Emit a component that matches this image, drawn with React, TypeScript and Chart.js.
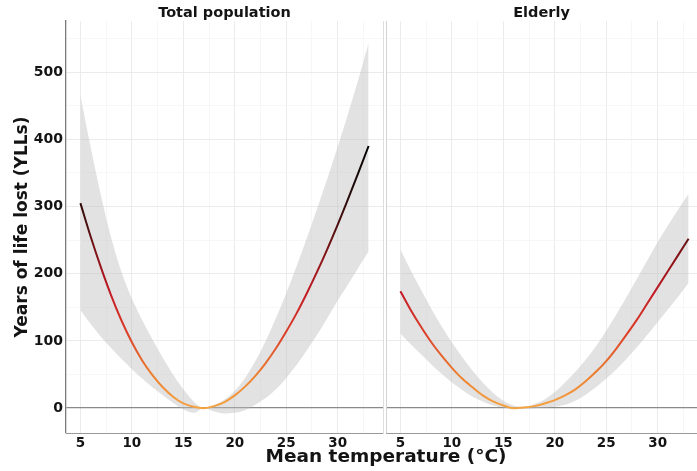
import React, { useEffect, useRef } from "react";
import { Chart, registerables } from "chart.js";

Chart.register(...registerables);

// ---------- data ----------
const temps = [5, 6, 7, 8, 9, 10, 11, 12, 13, 14, 15, 16, 17, 18, 19, 20, 21, 22, 23, 24, 25, 26, 27, 28, 29, 30, 31, 32, 33];

const totalMean = [305, 255, 209, 167, 130, 98, 71, 49, 31, 17, 7, 2, 0, 3, 9, 19, 32, 48, 67, 89, 114, 141, 171, 203, 237, 273, 311, 350, 390];
const totalUpper = [466, 388, 316, 253, 202, 163, 131, 102, 75, 50, 28, 10, 0, 5, 13, 26, 45, 70, 100, 134, 171, 211, 253, 297, 342, 389, 438, 489, 543];
const totalLower = [146, 125, 106, 89, 73, 58, 44, 31, 19, 8, -2, -7, 0, -5, -8, -7, -3, 5, 15, 28, 45, 64, 86, 109, 134, 160, 184, 209, 233];

const elderlyMean = [174, 146, 121, 98, 78, 60, 44, 31, 19, 10, 4, 0, 1, 3, 7, 12, 19, 28, 40, 54, 70, 89, 110, 132, 156, 180, 204, 228, 252];
const elderlyUpper = [236, 205, 176, 148, 122, 98, 76, 56, 38, 23, 11, 4, 2, 6, 13, 24, 38, 54, 72, 92, 115, 140, 166, 193, 220, 247, 272, 296, 319];
const elderlyLower = [111, 95, 80, 65, 51, 38, 27, 17, 10, 4, 1, -1, -1, 0, 1, 2, 5, 11, 20, 31, 44, 58, 74, 91, 109, 128, 147, 166, 186];

const panelTitles = ["Total population", "Elderly"];
const xTickLabels = [5, 10, 15, 20, 25, 30];
const yTickLabels = [0, 100, 200, 300, 400, 500];
const yAxisTitle = "Years of life lost (YLLs)";
const xAxisTitle = "Mean temperature (°C)";

// ---------- styling ----------
const FONT = "'DejaVu Sans', 'Liberation Sans', sans-serif";
const TEXT = "#141414";
const Y_MIN = -37;
const Y_MAX = 576;
const X_MIN = 3.6;
const COLOR_STOPS: [number, string][] = [
  [0, "#F5A442"],
  [50, "#EC7F30"],
  [110, "#DC4029"],
  [170, "#C41B25"],
  [220, "#8E1419"],
  [270, "#4E0F0F"],
  [330, "#1E0A0A"],
  [400, "#000000"],
];
const GRAD_TOP = 400;

function lineColor(ctx: any) {
  const chart = ctx.chart;
  if (!chart.chartArea) return "#cc2427";
  const ys = chart.scales.y;
  const p0 = ys.getPixelForValue(0);
  const p1 = ys.getPixelForValue(GRAD_TOP);
  const g = chart.ctx.createLinearGradient(0, p0, 0, p1);
  for (const [v, c] of COLOR_STOPS) g.addColorStop(v / GRAD_TOP, c);
  return g;
}

function buildConfig(p: {
  title: string;
  mean: number[];
  upper: number[];
  lower: number[];
  xMax: number;
  left: boolean;
}): any {
  const pts = (arr: number[]) => temps.map((t, i) => ({ x: t, y: arr[i] }));
  const scales: any = {
    x: {
      type: "linear",
      min: X_MIN,
      max: p.xMax,
      afterFit: (s: any) => {
        s.height = 38;
      },
      ticks: {
        stepSize: 2.5,
        includeBounds: false,
        autoSkip: false,
        maxRotation: 0,
        padding: 2,
        color: TEXT,
        font: { family: FONT, size: 13.5, weight: "bold" },
        callback: (v: number) => (xTickLabels.includes(v) ? String(v) : ""),
      },
      grid: {
        drawTicks: false,
        color: (c: any) => (c.tick && c.tick.value % 5 === 0 ? "#ebebeb" : "#f5f5f5"),
        lineWidth: (c: any) => (c.tick && c.tick.value % 5 === 0 ? 1 : 0.8),
      },
      border: { display: true, color: "#9a9a9a", width: 1 },
    },
    y: {
      type: "linear",
      position: "left",
      min: Y_MIN,
      max: Y_MAX,
      afterFit: (s: any) => {
        s.width = p.left ? 66 : 2;
      },
      ticks: {
        display: p.left,
        stepSize: 50,
        includeBounds: false,
        autoSkip: false,
        padding: 3,
        color: TEXT,
        font: { family: FONT, size: 14, weight: "bold" },
        callback: (v: number) => (yTickLabels.includes(v) ? String(v) : ""),
      },
      grid: {
        drawTicks: false,
        color: (c: any) =>
          c.tick && c.tick.value === 0 ? "#8a8a8a" : c.tick && c.tick.value % 100 === 0 ? "#ebebeb" : "#f5f5f5",
        lineWidth: (c: any) => (c.tick && c.tick.value === 0 ? 1.3 : c.tick && c.tick.value % 100 === 0 ? 1 : 0.8),
      },
      border: { display: true, color: p.left ? "#7a7a7a" : "#d4d4d4", width: p.left ? 1.3 : 1 },
      title: {
        display: p.left,
        text: yAxisTitle,
        color: TEXT,
        font: { family: FONT, size: 17, weight: "bold", lineHeight: 1.2 },
        padding: { top: 12, bottom: 0 },
      },
    },
  };
  if (p.left) {
    scales.y2 = {
      type: "linear",
      position: "right",
      min: Y_MIN,
      max: Y_MAX,
      afterFit: (s: any) => {
        s.width = 1;
      },
      ticks: { display: false },
      grid: { display: false, drawTicks: false },
      border: { display: true, color: "#dedede", width: 1 },
    };
  }
  return {
    type: "line",
    data: {
      datasets: [
        {
          label: "YLLs",
          data: pts(p.mean),
          borderColor: lineColor,
          borderWidth: 2,
          pointRadius: 0,
          fill: false,
          cubicInterpolationMode: "monotone",
        },
        {
          label: "Upper 95% CI",
          data: pts(p.upper),
          borderWidth: 0,
          borderColor: "rgba(0,0,0,0)",
          backgroundColor: "rgba(188,188,188,0.43)",
          pointRadius: 0,
          fill: "+1",
          cubicInterpolationMode: "monotone",
        },
        {
          label: "Lower 95% CI",
          data: pts(p.lower),
          borderWidth: 0,
          borderColor: "rgba(0,0,0,0)",
          pointRadius: 0,
          fill: false,
          cubicInterpolationMode: "monotone",
        },
      ],
    },
    options: {
      responsive: false,
      animation: false,
      events: [],
      layout: { padding: 0 },
      plugins: {
        legend: { display: false },
        tooltip: { enabled: false },
        title: {
          display: true,
          text: p.title,
          fullSize: false,
          color: TEXT,
          font: { family: FONT, size: 14.5, weight: "bold", lineHeight: 1 },
          padding: { top: 6, bottom: 0.5 },
        },
      },
      scales,
    },
  };
}

const LEFT_W = 384;
const RIGHT_W = 313;
const H = 471;

export default function App() {
  const leftRef = useRef<HTMLCanvasElement | null>(null);
  const rightRef = useRef<HTMLCanvasElement | null>(null);

  useEffect(() => {
    const pxPerUnit = (LEFT_W - 66 - 1) / (34.4 - X_MIN);
    const rightMax = X_MIN + (RIGHT_W - 2) / pxPerUnit;
    const c1 = new Chart(
      leftRef.current as HTMLCanvasElement,
      buildConfig({ title: panelTitles[0], mean: totalMean, upper: totalUpper, lower: totalLower, xMax: 34.4, left: true })
    );
    const c2 = new Chart(
      rightRef.current as HTMLCanvasElement,
      buildConfig({ title: panelTitles[1], mean: elderlyMean, upper: elderlyUpper, lower: elderlyLower, xMax: rightMax, left: false })
    );
    return () => {
      c1.destroy();
      c2.destroy();
    };
  }, []);

  return (
    <div style={{ position: "absolute", left: 0, top: 0, width: 697, height: H, background: "#fff", overflow: "hidden" }}>
      <canvas ref={leftRef} width={LEFT_W} height={H} style={{ position: "absolute", left: 0, top: 0, display: "block" }} />
      <canvas ref={rightRef} width={RIGHT_W} height={H} style={{ position: "absolute", left: LEFT_W, top: 0, display: "block" }} />
      <div
        style={{
          position: "absolute",
          left: 186,
          top: 446,
          width: 400,
          textAlign: "center",
          fontFamily: FONT,
          fontWeight: "bold",
          fontSize: 18.5,
          lineHeight: "20px",
          color: TEXT,
          whiteSpace: "nowrap",
        }}
      >
        {xAxisTitle}
      </div>
    </div>
  );
}
